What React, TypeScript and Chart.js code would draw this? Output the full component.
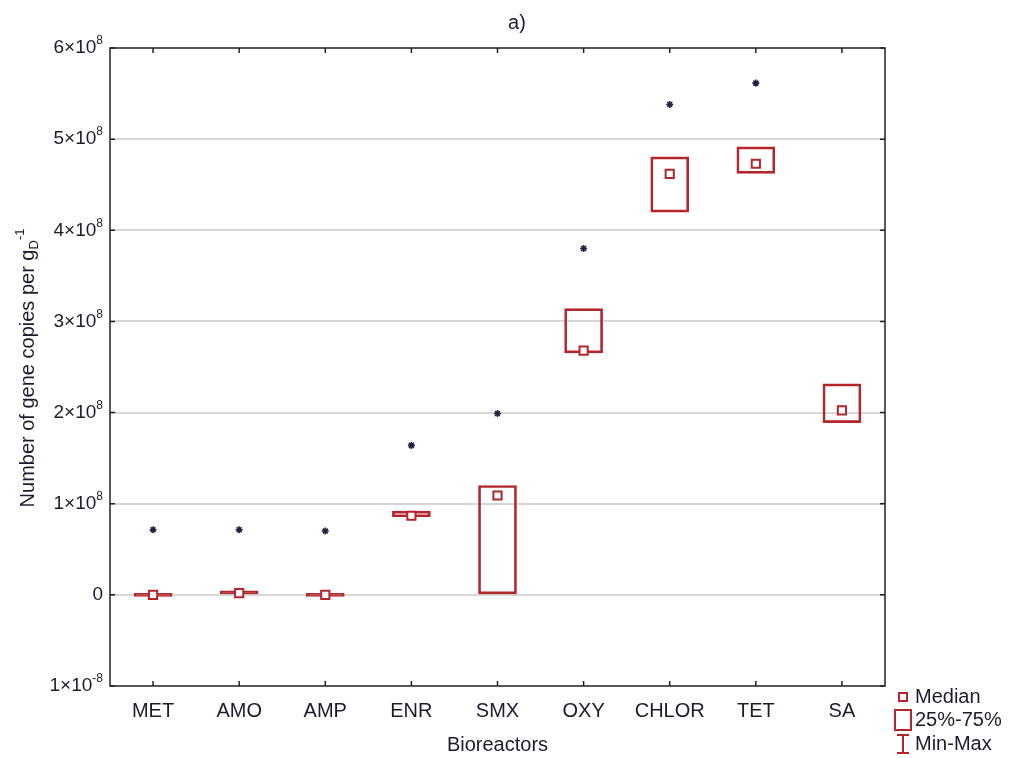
import React, { useEffect, useRef } from 'react';
import { Chart, registerables } from 'chart.js';

Chart.register(...registerables);

const categories = ['MET', 'AMO', 'AMP', 'ENR', 'SMX', 'OXY', 'CHLOR', 'TET', 'SA'];
const q1 = [0.0e8, 0.01e8, 0.0e8, 0.857e8, 0.01e8, 2.655e8, 4.2e8, 4.625e8, 1.89e8];
const q3 = [0.02e8, 0.045e8, 0.02e8, 0.918e8, 1.2e8, 3.14e8, 4.805e8, 4.915e8, 2.315e8];
const medians = [0.0e8, 0.02e8, 0.0e8, 0.868e8, 1.09e8, 2.68e8, 4.62e8, 4.73e8, 2.025e8];
const extremes = [0.715e8, 0.715e8, 0.7e8, 1.64e8, 1.99e8, 3.8e8, 5.38e8, 5.615e8, null];
const yTickValues = [-1e8, 0, 1e8, 2e8, 3e8, 4e8, 5e8, 6e8];
const yTickBase = ['1×10', '0', '1×10', '2×10', '3×10', '4×10', '5×10', '6×10'];
const yTickSup = ['-8', '', '8', '8', '8', '8', '8', '8'];
const legendLabels = ['Median', '25%-75%', 'Min-Max'];

const RED = '#B3262C';
const STAR = '#1e2240';
const TXT = '#1c1c2c';
const FONT = "'Liberation Sans', Arial, sans-serif";

const decorPlugin = {
  id: 'decor',
  afterDraw(chart: any) {
    const ctx = chart.ctx as CanvasRenderingContext2D;
    const a = chart.chartArea;
    const xS = chart.scales.x;
    const yS = chart.scales.y;
    ctx.save();
    // frame
    ctx.strokeStyle = '#222';
    ctx.lineWidth = 1.5;
    ctx.strokeRect(a.left, a.top, a.right - a.left, a.bottom - a.top);
    // inward ticks
    ctx.beginPath();
    yTickValues.forEach((v) => {
      const y = yS.getPixelForValue(v);
      ctx.moveTo(a.left, y);
      ctx.lineTo(a.left + 5, y);
      ctx.moveTo(a.right, y);
      ctx.lineTo(a.right - 5, y);
    });
    categories.forEach((_, i) => {
      const x = xS.getPixelForTick(i);
      ctx.moveTo(x, a.bottom);
      ctx.lineTo(x, a.bottom - 5);
      ctx.moveTo(x, a.top);
      ctx.lineTo(x, a.top + 5);
    });
    ctx.stroke();

    // y tick labels with superscripts
    ctx.fillStyle = TXT;
    ctx.textBaseline = 'middle';
    ctx.textAlign = 'left';
    yTickValues.forEach((v, i) => {
      const y = yS.getPixelForValue(v);
      ctx.font = `19px ${FONT}`;
      const bw = ctx.measureText(yTickBase[i]).width;
      ctx.font = `12px ${FONT}`;
      const sw = yTickSup[i] ? ctx.measureText(yTickSup[i]).width : 0;
      const x0 = a.left - 7 - bw - sw;
      ctx.font = `19px ${FONT}`;
      ctx.fillText(yTickBase[i], x0, y);
      if (yTickSup[i]) {
        ctx.font = `12px ${FONT}`;
        ctx.fillText(yTickSup[i], x0 + bw, y - 7);
      }
    });

    // y axis title (rotated)
    ctx.save();
    ctx.translate(27, 368);
    ctx.rotate(-Math.PI / 2);
    ctx.textBaseline = 'alphabetic';
    ctx.font = `20px ${FONT}`;
    const main = 'Number of gene copies per g';
    const mw = ctx.measureText(main).width;
    ctx.font = `13px ${FONT}`;
    const dw = ctx.measureText('D').width;
    const ew = ctx.measureText('-1').width;
    const total = mw + dw + ew;
    let x = -total / 2;
    const base = 7;
    ctx.font = `20px ${FONT}`;
    ctx.fillText(main, x, base);
    x += mw;
    ctx.font = `13px ${FONT}`;
    ctx.fillText('D', x, base + 4);
    ctx.fillText('-1', x + dw, base - 10);
    ctx.restore();

    // x axis title
    ctx.textAlign = 'center';
    ctx.textBaseline = 'middle';
    ctx.font = `20px ${FONT}`;
    ctx.fillText('Bioreactors', (a.left + a.right) / 2, 745);

    // title
    ctx.fillText('a)', 517, 23);

    // legend
    const lx = 903;
    const rows = [697, 720, 744];
    ctx.strokeStyle = RED;
    ctx.lineWidth = 2;
    ctx.strokeRect(lx - 4, rows[0] - 4, 8, 8);
    ctx.strokeRect(lx - 8, rows[1] - 10, 16, 20);
    ctx.beginPath();
    ctx.moveTo(lx, rows[2] - 9);
    ctx.lineTo(lx, rows[2] + 9);
    ctx.moveTo(lx - 6, rows[2] - 9);
    ctx.lineTo(lx + 6, rows[2] - 9);
    ctx.moveTo(lx - 6, rows[2] + 9);
    ctx.lineTo(lx + 6, rows[2] + 9);
    ctx.stroke();
    ctx.textAlign = 'left';
    ctx.fillStyle = TXT;
    ctx.font = `20px ${FONT}`;
    legendLabels.forEach((t, i) => ctx.fillText(t, 915, rows[i]));
    ctx.restore();
  },
};

export default function App() {
  const ref = useRef<HTMLCanvasElement>(null);
  useEffect(() => {
    document.body.style.margin = '0';
    const chart = new Chart(ref.current as HTMLCanvasElement, {
      type: 'bar',
      data: {
        labels: categories,
        datasets: [
          {
            type: 'line',
            data: extremes as any,
            showLine: false,
            pointStyle: 'star',
            pointRadius: 3.5,
            borderColor: STAR,
            borderWidth: 1.6,
            order: 0,
          } as any,
          {
            type: 'line',
            data: medians,
            showLine: false,
            pointStyle: 'rect',
            pointRadius: 5.8,
            borderColor: RED,
            backgroundColor: '#ffffff',
            borderWidth: 2,
            order: 1,
          } as any,
          {
            type: 'bar',
            data: categories.map((_, i) => [q1[i], q3[i]]) as any,
            backgroundColor: (c: any) =>
              c.dataIndex !== undefined && q3[c.dataIndex] - q1[c.dataIndex] < 0.05e8 ? RED : 'rgba(0,0,0,0)',
            borderColor: RED,
            borderWidth: 2,
            borderSkipped: false,
            barThickness: 38,
            minBarLength: 3,
            order: 2,
          } as any,
        ],
      },
      options: {
        responsive: false,
        animation: false,
        devicePixelRatio: 1,
        layout: { padding: { top: 48, right: 131, left: 0, bottom: 0 } },
        plugins: {
          legend: { display: false },
          tooltip: { enabled: false },
          title: { display: false },
        },
        scales: {
          x: {
            offset: true,
            grid: { display: false, drawTicks: false },
            border: { display: false },
            ticks: {
              font: { family: FONT, size: 20 },
              color: TXT,
              padding: 13,
              maxRotation: 0,
              autoSkip: false,
            },
            afterFit: (s: any) => {
              s.height = 72;
            },
          },
          y: {
            min: -1e8,
            max: 6e8,
            ticks: { stepSize: 1e8, display: false },
            grid: {
              drawTicks: false,
              lineWidth: 2,
              color: (c: any) =>
                c.tick && (c.tick.value <= -1e8 || c.tick.value >= 6e8) ? 'rgba(0,0,0,0)' : '#d6d6d6',
            },
            border: { display: false },
            afterFit: (s: any) => {
              s.width = 110;
            },
          },
        },
      } as any,
      plugins: [decorPlugin],
    });
    return () => chart.destroy();
  }, []);
  return (
    <canvas ref={ref} width={1016} height={758} style={{ display: 'block', width: 1016, height: 758 }} />
  );
}
